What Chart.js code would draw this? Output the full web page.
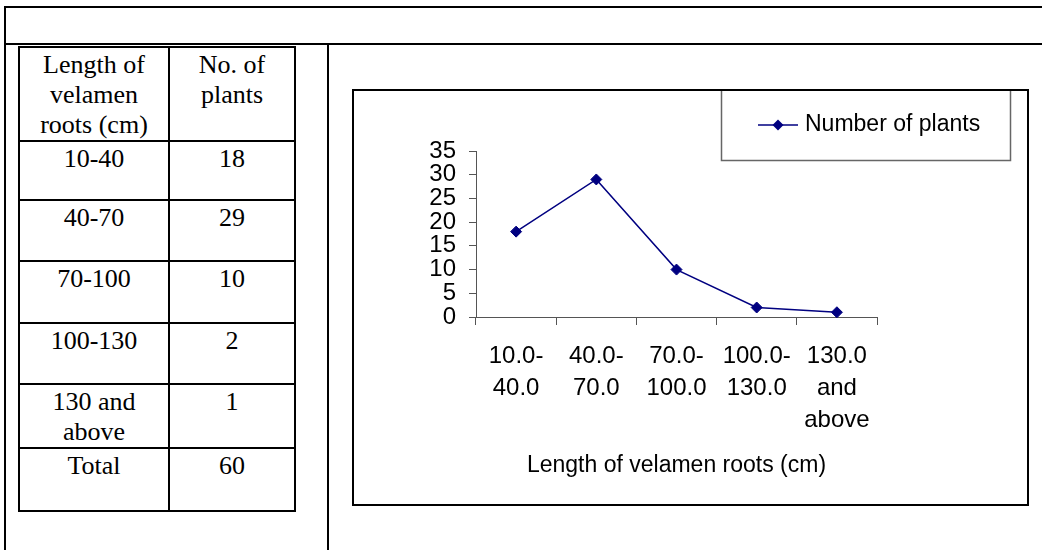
<!DOCTYPE html>
<html>
<head>
<meta charset="utf-8">
<title>Length of velamen roots</title>
<script src="https://cdn.jsdelivr.net/npm/chart.js@4/dist/chart.umd.min.js"></script>
<style>
  html, body { margin: 0; padding: 0; background: #fff; }
  body { width: 1042px; height: 550px; position: relative; overflow: hidden; font-family: 'Liberation Serif', 'Times New Roman', serif; }
  .rule { position: absolute; background: #000; }
  #lengthTable {
    position: absolute; left: 18px; top: 46px;
    border-collapse: separate; border-spacing: 0; table-layout: fixed;
    border-top: 2px solid #000; border-left: 2px solid #000;
  }
  #lengthTable td {
    box-sizing: border-box;
    border-right: 2px solid #000; border-bottom: 2px solid #000;
    padding: 2px 6px 0; vertical-align: top; text-align: center;
    font-size: 26px; line-height: 30px; color: #000;
  }
  #chartBox {
    position: absolute; left: 352px; top: 89px; width: 677px; height: 417px;
    border: 2px solid #000; box-sizing: border-box;
  }
  #chartBox canvas { display: block; }
</style>
</head>
<body>
<div class="rule" style="left:4px;top:6px;width:1038px;height:2px"></div>
<div class="rule" style="left:4px;top:43px;width:1038px;height:2px"></div>
<div class="rule" style="left:4px;top:6px;width:2px;height:544px"></div>
<div class="rule" style="left:327px;top:43px;width:2px;height:507px"></div>

<table id="lengthTable">
  <colgroup><col style="width:150px"><col style="width:126px"></colgroup>
  <tbody></tbody>
</table>

<div id="chartBox"><canvas id="lineChart" width="673" height="413"></canvas></div>

<script>
// Frequency of velamen root lengths
const tableHeader = ['Length of velamen roots (cm)', 'No. of plants'];
const tableRanges = ['10-40', '40-70', '70-100', '100-130', '130 and above'];
const plantCounts = [18, 29, 10, 2, 1];
const totalLabel = 'Total';

const axisLabels = [
  ['10.0-', '40.0'],
  ['40.0-', '70.0'],
  ['70.0-', '100.0'],
  ['100.0-', '130.0'],
  ['130.0', 'and', 'above']
];
const seriesName = 'Number of plants';
const xAxisTitle = 'Length of velamen roots (cm)';
const yRange = [0, 35];
const yStep = 5;

// ---- table ----
const rowHeights = [92, 59, 61, 62, 61, 63, 63];
const tbody = document.querySelector('#lengthTable tbody');
function addRow(cells, h) {
  const tr = document.createElement('tr');
  tr.style.height = h + 'px';
  cells.forEach(c => {
    const td = document.createElement('td');
    td.textContent = c;
    tr.appendChild(td);
  });
  tbody.appendChild(tr);
}
addRow(tableHeader, rowHeights[0]);
tableRanges.forEach((r, i) => addRow([r, String(plantCounts[i])], rowHeights[i + 1]));
addRow([totalLabel, String(plantCounts.reduce((a, b) => a + b, 0))], rowHeights[6]);

// ---- chart ----
const navy = '#000080';
const axisGrey = '#555555';
Chart.defaults.font.family = "'Liberation Sans', Arial, sans-serif";
Chart.defaults.color = '#000';

// Legend drawn as a framed box in the upper right of the chart panel
const framedLegend = {
  id: 'framedLegend',
  afterDraw(chart, args, o) {
    const ctx = chart.ctx;
    const ds = chart.data.datasets[0];
    ctx.save();
    ctx.strokeStyle = o.frameColor;
    ctx.lineWidth = 1.5;
    ctx.strokeRect(o.left + 0.5, -2, o.width, o.bottom + 2.5);

    const cy = o.lineY;
    ctx.strokeStyle = ds.borderColor;
    ctx.lineWidth = ds.borderWidth;
    ctx.beginPath();
    ctx.moveTo(o.lineX, cy);
    ctx.lineTo(o.lineX + o.lineLength, cy);
    ctx.stroke();

    const mx = o.lineX + o.lineLength / 2;
    const r = ds.pointRadius;
    ctx.fillStyle = ds.pointBackgroundColor;
    ctx.beginPath();
    ctx.moveTo(mx, cy - r);
    ctx.lineTo(mx + r, cy);
    ctx.lineTo(mx, cy + r);
    ctx.lineTo(mx - r, cy);
    ctx.closePath();
    ctx.fill();

    ctx.fillStyle = '#000';
    ctx.font = o.fontSize + "px 'Liberation Sans', Arial, sans-serif";
    ctx.textBaseline = 'middle';
    ctx.textAlign = 'left';
    ctx.fillText(ds.label, o.lineX + o.lineLength + o.gap, cy);
    ctx.restore();
  }
};

new Chart(document.getElementById('lineChart'), {
  type: 'line',
  data: {
    labels: axisLabels,
    datasets: [{
      label: seriesName,
      data: plantCounts,
      borderColor: navy,
      backgroundColor: navy,
      borderWidth: 1.5,
      tension: 0,
      pointStyle: 'rectRot',
      pointRadius: 5.5,
      pointBackgroundColor: navy,
      pointBorderColor: navy,
      pointBorderWidth: 1,
      clip: false
    }]
  },
  options: {
    responsive: false,
    animation: false,
    events: [],
    layout: { padding: { top: 60, right: 150, bottom: 0, left: 0 } },
    plugins: {
      legend: { display: false },
      tooltip: { enabled: false },
      framedLegend: {
        left: 367, width: 289, bottom: 69,
        frameColor: '#666',
        lineX: 404, lineLength: 40, lineY: 34, gap: 7,
        fontSize: 23
      }
    },
    scales: {
      x: {
        type: 'category',
        offset: true,
        grid: { offset: true, drawOnChartArea: false, drawTicks: true, tickLength: 8, color: axisGrey, lineWidth: 1 },
        border: { display: true, color: axisGrey, width: 1 },
        ticks: {
          autoSkip: false, maxRotation: 0, minRotation: 0,
          padding: 16,
          color: '#000',
          font: { size: 24, lineHeight: 1.317 }
        },
        title: {
          display: true, text: xAxisTitle, color: '#000',
          font: { size: 23, lineHeight: 1.2 },
          padding: { top: 0, bottom: 24.5 }
        },
        afterFit(scale) { scale.height = 187; }
      },
      y: {
        min: yRange[0], max: yRange[1],
        grid: { drawOnChartArea: false, drawTicks: true, tickLength: 7, color: axisGrey, lineWidth: 1 },
        border: { display: true, color: axisGrey, width: 1 },
        ticks: {
          stepSize: yStep,
          autoSkip: false,
          padding: 13,
          color: '#000',
          font: { size: 24, lineHeight: 1.0 }
        },
        afterFit(scale) { scale.width = 122; }
      }
    }
  },
  plugins: [framedLegend]
});
</script>
</body>
</html>
